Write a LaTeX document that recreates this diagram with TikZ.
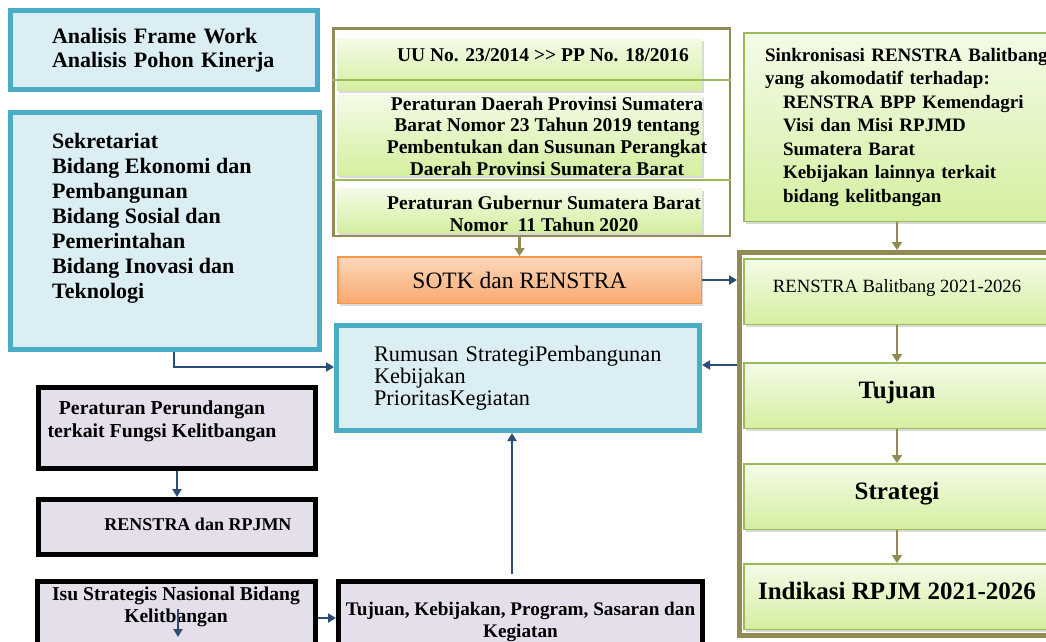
\documentclass[tikz,border=0pt]{standalone}
\usepackage{fontspec}
\setmainfont{Liberation Serif}
\usetikzlibrary{positioning,arrows.meta,shadows}
\definecolor{tealline}{HTML}{4BACC6}
\definecolor{tealfill}{HTML}{DAEEF3}
\definecolor{framebrown}{HTML}{938953}
\definecolor{leafline}{HTML}{9BBB59}
\definecolor{leaftop}{HTML}{F4FBE8}
\definecolor{leafbottom}{HTML}{D4EFA0}
\definecolor{orangeline}{HTML}{F79646}
\definecolor{orangetop}{HTML}{FDD8BC}
\definecolor{orangebottom}{HTML}{F9A96E}
\definecolor{lilacfill}{HTML}{E5DFEC}
\definecolor{arrowblue}{HTML}{2C4D75}
\tikzset{
  tealbox/.style={draw=tealline,line width=5pt,fill=tealfill,inner sep=0pt},
  lilacbox/.style={draw=black,line width=5pt,fill=lilacfill,inner sep=0pt},
  softshadow/.style={drop shadow={shadow xshift=2pt,shadow yshift=-3pt,opacity=0.3}},
  lawrow/.style={top color=leaftop,bottom color=leafbottom,inner sep=0pt,minimum width=365pt,softshadow},
  leafbox/.style={draw=leafline,line width=1.5pt,top color=leaftop,bottom color=leafbottom,inner sep=0pt,softshadow},
  planbox/.style={leafbox,minimum width=306.5pt,minimum height=65.5pt,text depth=11pt},
  lawfont/.style={font=\fontsize{19.5}{21.7}\selectfont\bfseries,inner sep=0pt,align=center},
  listfont/.style={font=\fontsize{19.6}{22.5}\selectfont\bfseries,inner sep=0pt,align=center},
  bigbold/.style={font=\fontsize{25}{28}\selectfont\bfseries},
  bluearrow/.style={draw=arrowblue,line width=2pt,-{Triangle[length=8pt,width=9pt]}},
  olivearrow/.style={draw=framebrown,line width=2.5pt,-{Triangle[length=8pt,width=10pt]}}
}
\begin{document}
\begin{tikzpicture}[x=1pt,y=-1pt]
\useasboundingbox (0,0) rectangle (1046,641);
\clip (0,0) rectangle (1046,641);

\node[tealbox,minimum width=307pt,minimum height=79pt,text width=224pt,align=left,font=\fontsize{22}{24}\selectfont\bfseries] (analysis) at (164,50) {Analisis Frame Work\\Analisis Pohon Kinerja};
\node[tealbox,minimum width=309pt,minimum height=237pt] (unitbox) at (165,231) {};
\node[anchor=north west,inner sep=0pt,align=left,font=\fontsize{22}{25}\selectfont\bfseries] (unittext) at (52,133) {Sekretariat\\Bidang Ekonomi dan\\Pembangunan\\Bidang Sosial dan\\Pemerintahan\\Bidang Inovasi dan\\Teknologi};

\node[draw=framebrown,line width=2.5pt,minimum width=396.5pt,minimum height=207.5pt] (lawframe) at (531.5,132) {};
\node[lawrow,minimum height=52pt] (lawa) at (519.5,64) {};
\node[lawrow,minimum height=80pt] (lawb) at (519.5,135) {};
\node[lawrow,minimum height=44pt] (lawc) at (519.5,210) {};
\foreach \ly in {80,180}
  \draw[leafline,line width=2pt] (lawframe.west |- 0,\ly) -- (lawframe.east |- 0,\ly);
\node[lawfont] (lawatext) at (543,55) {UU No. 23/2014 >{}> PP No. 18/2016};
\node[lawfont] (lawbtext) at (547,136) {Peraturan Daerah Provinsi Sumatera\\Barat Nomor 23 Tahun 2019 tentang\\Pembentukan dan Susunan Perangkat\\Daerah Provinsi Sumatera Barat};
\node[lawfont,font=\fontsize{19.5}{22}\selectfont\bfseries] (lawctext) at (544,214) {Peraturan Gubernur Sumatera Barat\\Nomor~ 11 Tahun 2020};

\node[draw=orangeline,line width=1.5pt,top color=orangetop,bottom color=orangebottom,softshadow,minimum width=363.5pt,minimum height=46.5pt,inner sep=0pt,font=\fontsize{23.5}{28}\selectfont] (sotk) at (519.5,280) {SOTK dan RENSTRA};
\node[tealbox,minimum width=363pt,minimum height=105pt,text width=288pt,align=left,font=\fontsize{22.3}{22}\selectfont] (rumusan) at (518,378) {Rumusan StrategiPembangunan\\Kebijakan\\PrioritasKegiatan};

\node[leafbox,minimum width=327.5pt,minimum height=188.5pt,text width=285pt,align=left,font=\fontsize{19}{23.5}\selectfont\bfseries] (sync) at (907.5,127) {Sinkronisasi RENSTRA Balitbang\\yang akomodatif terhadap:\\\hspace*{18pt}RENSTRA BPP Kemendagri\\\hspace*{18pt}Visi dan Misi RPJMD\\\hspace*{18pt}Sumatera Barat\\\hspace*{18pt}Kebijakan lainnya terkait\\\hspace*{18pt}bidang kelitbangan};

\node[draw=framebrown,line width=5pt,minimum width=315pt,minimum height=383pt] (renframe) at (897,444) {};
\node[planbox,font=\fontsize{18.7}{22}\selectfont] (renstra) at (897,291.5) {RENSTRA Balitbang 2021-2026};
\node[planbox,bigbold] (tujuan) at (897,395.5) {Tujuan};
\node[planbox,bigbold] (strategi) at (897,496.5) {Strategi};
\node[planbox,bigbold] (indikasi) at (897,596.5) {Indikasi RPJM 2021-2026};

\node[lilacbox,minimum width=277pt,minimum height=81pt] (perund) at (177,428) {};
\node[lilacbox,minimum width=277pt,minimum height=55pt] (rpjmn) at (177,527) {};
\node[lilacbox,minimum width=278pt,minimum height=81pt] (isu) at (176.5,622) {};
\node[lilacbox,minimum width=364pt,minimum height=81pt,listfont,font=\fontsize{19.2}{22}\selectfont\bfseries] (tujkeb) at (520.5,622) {Tujuan, Kebijakan, Program, Sasaran dan\\Kegiatan};
\node[listfont,font=\fontsize{19.8}{23}\selectfont\bfseries] (perundtext) at (162,421.5) {Peraturan Perundangan\\terkait Fungsi Kelitbangan};
\node[listfont,font=\fontsize{18}{22}\selectfont\bfseries] (rpjmntext) at (198,524) {RENSTRA dan RPJMN};
\node[listfont,font=\fontsize{19.6}{22}\selectfont\bfseries] (isutext) at (176,607) {Isu Strategis Nasional Bidang\\Kelitbangan};

\coordinate (rumusin) at ([yshift=11pt]rumusan.west);
\coordinate (backin) at ([yshift=13pt]rumusan.east);
\coordinate (upfoot) at ([xshift=-8.5pt,yshift=5pt]tujkeb.north);
\coordinate (isutail) at (178,609);
\coordinate (isuhead) at (178,637);
\draw[bluearrow] ([xshift=9pt]unitbox.south) |- (rumusin);
\draw[bluearrow] (perund) -- (rpjmn);
\draw[bluearrow] (isutail) -- (isuhead);
\draw[bluearrow] ([yshift=4pt]isu.east) -- ([yshift=4pt]tujkeb.west);
\draw[bluearrow] (upfoot) -- (upfoot |- rumusan.south);
\draw[bluearrow] (sotk.east) -- (sotk.east -| renframe.west);
\draw[bluearrow] (backin -| renframe.west) -- (backin);
\draw[olivearrow] (lawframe.south -| sotk.north) -- (sotk.north);
\draw[olivearrow] (renframe.north |- sync.south) -- (renframe.north);
\foreach \a/\b in {renstra/tujuan,tujuan/strategi,strategi/indikasi}
  \draw[olivearrow] (\a) -- (\b);
\end{tikzpicture}
\end{document}
